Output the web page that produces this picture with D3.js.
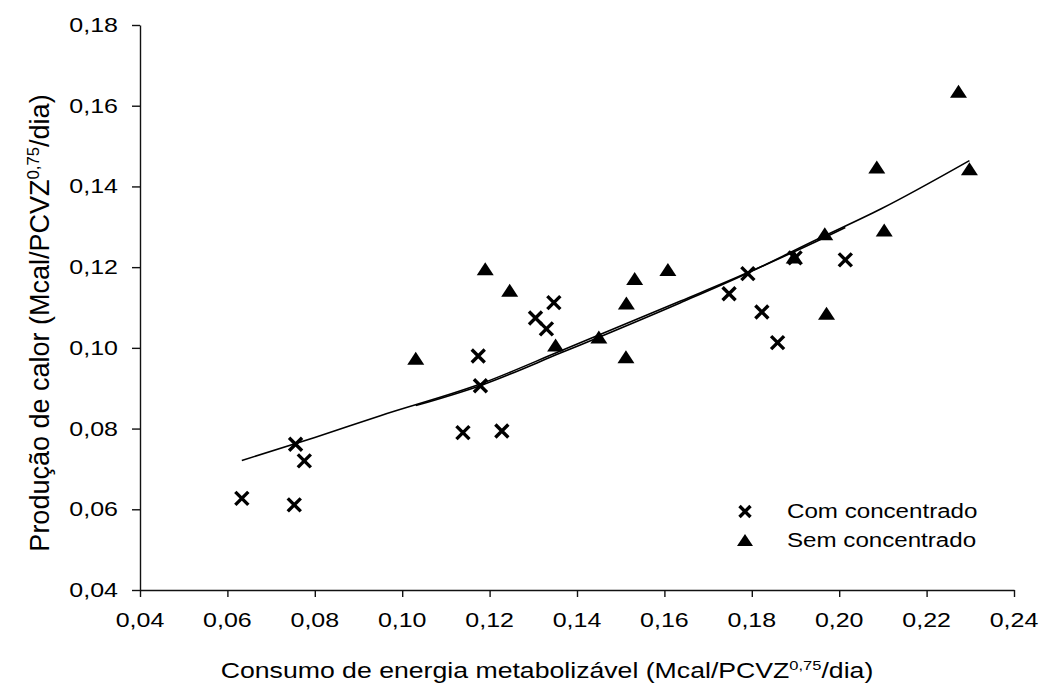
<!DOCTYPE html>
<html><head><meta charset="utf-8">
<script src="https://cdn.jsdelivr.net/npm/d3@7"></script>
<style>
html,body{margin:0;padding:0;background:#fff;}
svg{display:block;}
text{font-family:"Liberation Sans",Arial,Helvetica,sans-serif;fill:#000;}
</style></head>
<body>
<svg id="chart" width="1040" height="686"></svg>
<script>
// ---- data ----
const xTicks = [0.04,0.06,0.08,0.10,0.12,0.14,0.16,0.18,0.20,0.22,0.24];
const yTicks = [0.04,0.06,0.08,0.10,0.12,0.14,0.16,0.18];
const seriesNames = ["Com concentrado","Sem concentrado"];
const comX = [0.0633,0.0753,0.0756,0.0776,0.1139,0.1174,0.1179,0.1228,0.1305,0.1330,0.1347,0.1748,0.1791,0.1823,0.1859,0.1899,0.2014];
const comY = [0.0627,0.0611,0.0761,0.0720,0.0790,0.0980,0.0906,0.0794,0.1074,0.1047,0.1112,0.1134,0.1184,0.1089,0.1013,0.1223,0.1218];
const semX = [0.1031,0.1190,0.1246,0.1351,0.1450,0.1512,0.1513,0.1532,0.1608,0.1897,0.1967,0.1971,0.2086,0.2103,0.2273,0.2298];
const semY = [0.0974,0.1196,0.1143,0.1007,0.1027,0.0978,0.1111,0.1172,0.1194,0.1225,0.1283,0.1086,0.1448,0.1292,0.1636,0.1444];
const comFitX = [0.0633,0.0800,0.0950,0.1180,0.1362,0.1637,0.1790,0.1950,0.2014];
const comFitY = [0.0721,0.0778,0.0832,0.0911,0.0992,0.1116,0.1186,0.1265,0.1298];
const semFitX = [0.1031,0.1180,0.1362,0.1637,0.1790,0.1950,0.2095,0.2298];
const semFitY = [0.0857,0.0907,0.0987,0.1112,0.1185,0.1269,0.1344,0.1464];

// ---- drawing ----
const svg = d3.select("#chart");
const x = d3.scaleLinear().domain([0.04,0.24]).range([140,1014]);
const y = d3.scaleLinear().domain([0.04,0.18]).range([590,25]);
const fmt = d => d3.format(".2f")(d).replace(".",",");
const SX = 1.25;

// axes
const gx = svg.append("g").attr("transform","translate(0,590)")
  .call(d3.axisBottom(x).tickValues(xTicks).tickSize(7).tickSizeOuter(0).tickFormat(""));
const gy = svg.append("g").attr("transform","translate(140,0)")
  .call(d3.axisLeft(y).tickValues(yTicks).tickSize(8).tickSizeOuter(0).tickFormat(""));
[gx,gy].forEach(g=>{g.selectAll("path,line").attr("stroke","#111").attr("stroke-width",1.4);});

// tick labels (stretched horizontally)
xTicks.forEach(t=>{
  svg.append("g").attr("transform",`translate(${x(t)},627) scale(${SX},1)`)
    .append("text").attr("text-anchor","middle").style("font-size","20px").text(fmt(t));
});
yTicks.forEach(t=>{
  svg.append("g").attr("transform",`translate(118,${y(t)+7}) scale(${SX},1)`)
    .append("text").attr("text-anchor","end").style("font-size","20px").text(fmt(t));
});

// axis titles
function title(g, main, sup, tail, size){
  const t = g.append("text").attr("text-anchor","middle").style("font-size",size+"px");
  t.append("tspan").text(main);
  t.append("tspan").attr("dy",-size*0.38).style("font-size",(size*0.62)+"px").text(sup);
  t.append("tspan").attr("dy",size*0.38).text(tail);
}
title(svg.append("g").attr("transform",`translate(547,678) scale(1.24,1)`),
  "Consumo de energia metabolizável (Mcal/PCVZ","0,75","/dia)",21.5);
title(svg.append("g").attr("transform",`translate(49,323) rotate(-90)`),
  "Produção de calor (Mcal/PCVZ","0,75","/dia)",27);

// fit lines
const line = d3.line().x(d=>x(d[0])).y(d=>y(d[1])).curve(d3.curveMonotoneX);
svg.append("path").datum(comFitX.map((v,i)=>[v,comFitY[i]]))
  .attr("d",line).attr("fill","none").attr("stroke","#000").attr("stroke-width",1.6);
svg.append("path").datum(semFitX.map((v,i)=>[v,semFitY[i]]))
  .attr("d",line).attr("fill","none").attr("stroke","#000").attr("stroke-width",1.6);

// markers
const xm = 6.5;
function cross(g,cx,cy,s){
  g.append("path").attr("d",`M${cx-s},${cy-s}L${cx+s},${cy+s}M${cx-s},${cy+s}L${cx+s},${cy-s}`)
   .attr("stroke","#000").attr("stroke-width",3.4).attr("fill","none");
}
function tri(g,cx,cy,w,h){
  g.append("path").attr("d",`M${cx},${cy-h/2}L${cx+w/2},${cy+h/2}L${cx-w/2},${cy+h/2}Z`).attr("fill","#000");
}
const gm = svg.append("g");
semX.forEach((v,i)=>tri(gm,x(v),y(semY[i]),17,13));
comX.forEach((v,i)=>cross(gm,x(v),y(comY[i]),xm));

// legend
const lg = svg.append("g");
cross(lg,745,511.5,5.5);
tri(lg,745,540,16,12);
seriesNames.forEach((n,i)=>{
  lg.append("g").attr("transform",`translate(787,${518+i*28.5}) scale(1.15,1)`)
    .append("text").style("font-size","21px").text(n);
});
</script>
</body></html>
